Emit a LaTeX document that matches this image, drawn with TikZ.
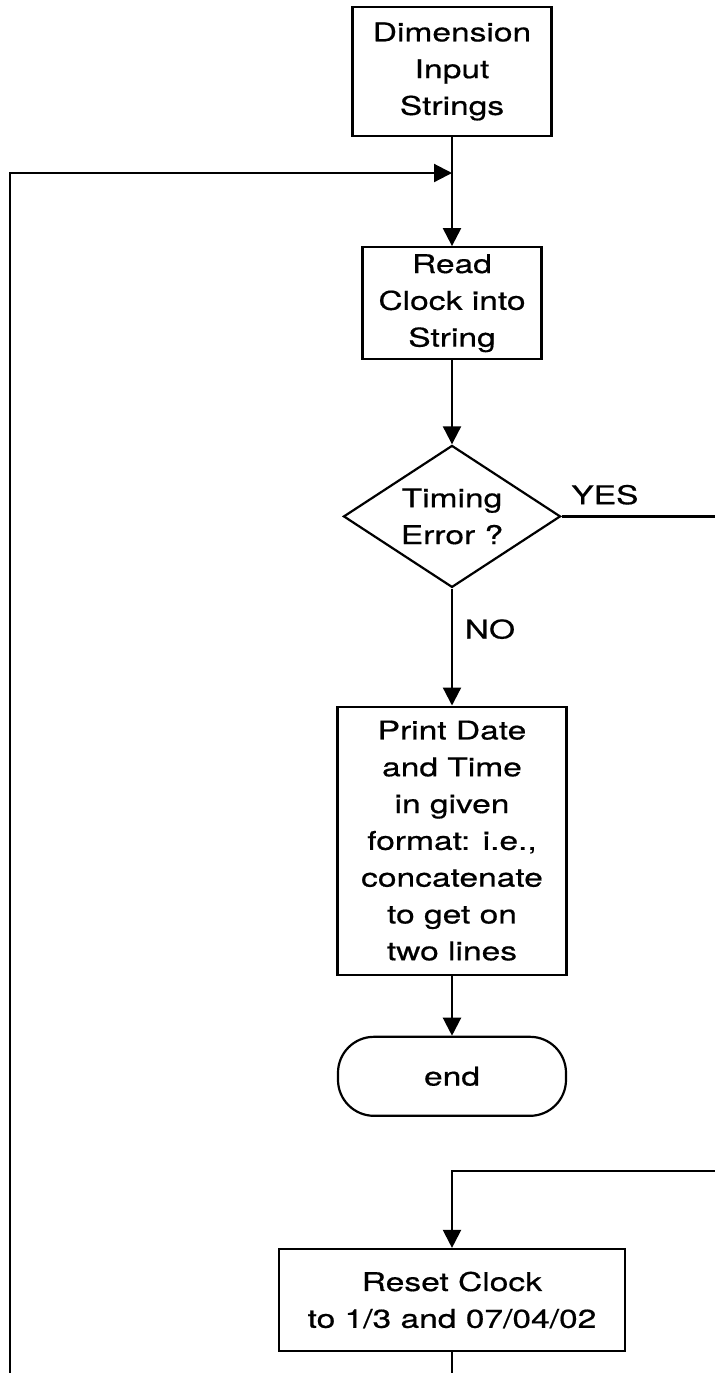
\documentclass[tikz,border=0pt]{standalone}
\usepackage{fontspec}
\setmainfont{TeX Gyre Heros}[FakeStretch=1.3, FakeBold=0.6]
\usetikzlibrary{positioning, arrows.meta, shapes.geometric}

\begin{document}
\begin{tikzpicture}[
	x=0.5pt, y=-0.5pt,
	box/.style={draw, rectangle, inner sep=0pt, align=center},
	decision/.style={draw, diamond, inner sep=0pt, aspect=1.53, align=center, minimum width=108.5pt, minimum height=71pt},
	terminal/.style={draw, rectangle, rounded corners=18pt, inner sep=0pt, align=center},
	arrow/.style={-{Triangle[length=9pt, width=9pt]}},
	line width=1.1pt,
	font=\fontsize{12.9pt}{18.4pt}\selectfont
	]

	\useasboundingbox (0,0) rectangle (715,1373);

	\node[box, minimum width=99.5pt, minimum height=64.5pt] (dim) at (452,71.5) {Dimension\\Input\\Strings};
	\node[box, minimum width=89.5pt, minimum height=56pt, below=54.5pt of dim] (read) {Read\\Clock into\\String};
	\node[decision, below=42pt of read] (error) {Timing\\Error ?};
	\node[box, minimum width=114.5pt, minimum height=134pt, below=58.5pt of error] (print) {Print Date\\and Time\\in given\\format: i.e.,\\concatenate\\to get on\\two lines};
	\node[terminal, minimum width=114pt, minimum height=39.5pt, below=30pt of print] (finish) {end};
	\node[box, minimum width=173pt, minimum height=51pt, below=65.5pt of finish] (reset) {Reset Clock\\to 1/3 and 07/04/02};

	\node[above right=2pt and 1pt of error.east] (yes) {YES};
	\node[below right=11.5pt and 2.5pt of error.south] (no) {NO};

	% loose ends at the page edges
	\coordinate (loopleft) at (10,173);
	\coordinate (loopjoin) at (loopleft -| dim.south);
	\coordinate (loopbottom) at (10,1373);
	\coordinate (rightedge) at (715,0);
	\coordinate (yesout) at (error.east -| rightedge);
	\coordinate (yesin) at (715,1171);
	\coordinate (resetout) at (reset.south |- loopbottom);

	\draw[arrow] (dim) -- (read);
	\draw[arrow] (loopbottom) |- (loopjoin);
	\draw[arrow] (read) -- (error);
	\draw (error.east) -- (yesout);
	\draw[arrow] (error) -- (print);
	\draw[arrow] (print) -- (finish);
	\draw[arrow] (yesin) -| (reset);
	\draw (reset) -- (resetout);

\end{tikzpicture}
\end{document}
